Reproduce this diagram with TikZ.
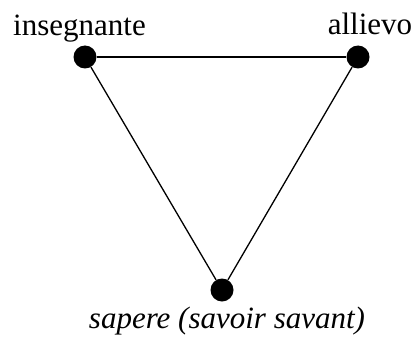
\documentclass[tikz,border=0pt]{standalone}
\usepackage{fontspec}
\setmainfont{Liberation Serif}
\begin{document}
\begin{tikzpicture}[x=1pt,y=1pt,
  dot/.style={circle,fill=black,inner sep=0pt,minimum size=23pt},
  lbl/.style={anchor=base,inner sep=0pt,font=\fontsize{31}{37}\selectfont},
  edge/.style={line width=1.3pt}]
\useasboundingbox (0,0) rectangle (414,338);
\node[dot] (a) at (85,281) {};
\node[dot] (b) at (358,281) {};
\node[dot] (c) at (222,48) {};
\draw[edge] (a) -- (b);
\draw[edge] (a) -- (c);
\draw[edge] (b) -- (c);
\node[lbl] (la) at (79.5,302) {insegnante};
\node[lbl] (lb) at (370,303) {allievo};
\node[lbl] (lc) at (227,10) {\itshape sapere (savoir savant)};
\end{tikzpicture}
\end{document}
